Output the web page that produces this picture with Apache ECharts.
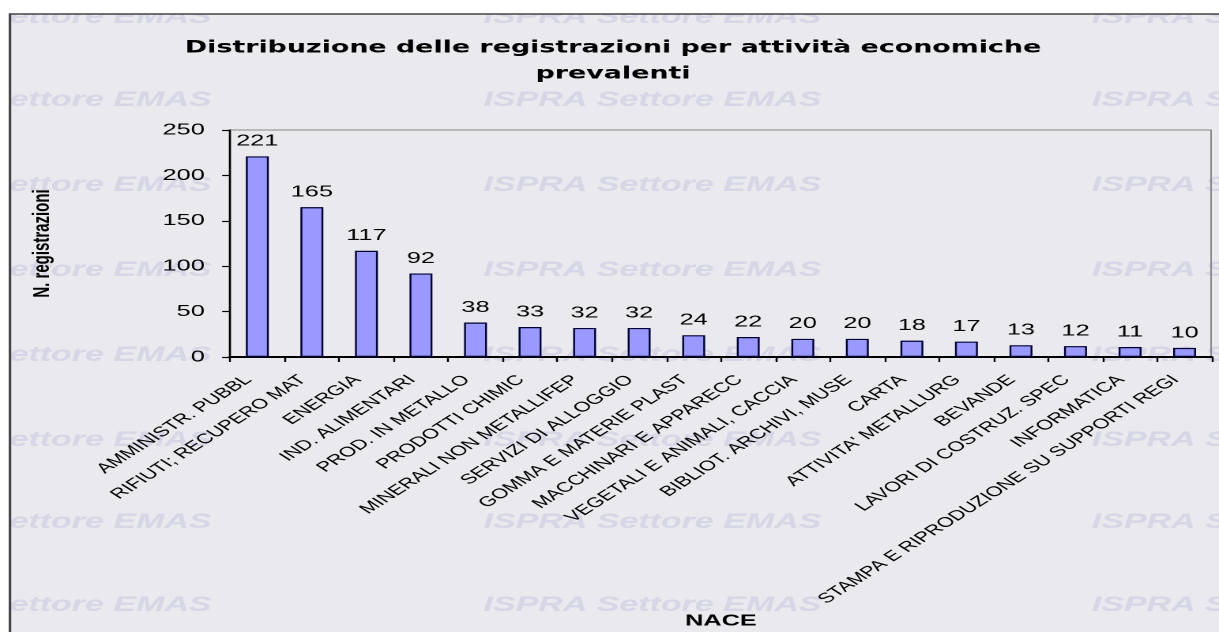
<!DOCTYPE html>
<html><head><meta charset="utf-8">
<script src="https://cdn.jsdelivr.net/npm/echarts@6/dist/echarts.min.js"></script>
<style>
html,body{margin:0;padding:0;background:#fff;overflow:hidden;width:1219px;height:632px}
#c{width:771.5px;height:632px;transform:scaleX(1.58);transform-origin:0 0}
</style>
</head><body><div id="c"></div>
<script>
const categories = ["AMMINISTR. PUBBL","RIFIUTI; RECUPERO MAT","ENERGIA","IND. ALIMENTARI","PROD. IN METALLO","PRODOTTI CHIMIC","MINERALI NON METALLIFEP","SERVIZI DI ALLOGGIO","GOMMA E MATERIE PLAST","MACCHINARI E APPARECC","VEGETALI E ANIMALI, CACCIA","BIBLIOT. ARCHIVI, MUSE","CARTA","ATTIVITA' METALLURG","BEVANDE","LAVORI DI COSTRUZ. SPEC","INFORMATICA","STAMPA E RIPRODUZIONE SU SUPPORTI REGI"];
const values = [221,165,117,92,38,33,32,32,24,22,20,20,18,17,13,12,11,10];
const yTicks = [0,50,100,150,200,250];
const titleText = "Distribuzione delle registrazioni per attività economiche\nprevalenti";
const watermark = "ISPRA Settore EMAS";

const chart = echarts.init(document.getElementById('c'), null, {renderer:'canvas', devicePixelRatio:2});
const W = 771.5;
const wm = [];
const rows = [17,100,185,270,355,440,522,605];
const cols = [-80,306,691];
rows.forEach(y=>cols.forEach(x=>{
  wm.push({type:'text', x:x, y:y, z:-9, silent:true,
    style:{text:watermark, fill:'#d6d6e6', font:'italic bold 21.5px "Liberation Sans", Arial', textVerticalAlign:'middle'}});
}));
chart.setOption({
  animation:false,
  backgroundColor:'#ffffff',
  graphic:[
    {type:'rect', z:-10, silent:true, shape:{x:6.3,y:14,width:900,height:700}, style:{fill:'#e9e9ee'}},
    ...wm,
    {type:'rect', z:-8, silent:true, shape:{x:0,y:0,width:900,height:13.5}, style:{fill:'#ffffff'}},
    {type:'rect', z:-8, silent:true, shape:{x:0,y:0,width:6.3,height:700}, style:{fill:'#ffffff'}},
    {type:'rect', z:-7, silent:true, shape:{x:6.3,y:14,width:900,height:700}, style:{fill:'none', stroke:'#444', lineWidth:1.6}},
    {type:'rect', z:-7, silent:true, shape:{x:145.6,y:130,width:620.9,height:227}, style:{fill:'none', stroke:'#888', lineWidth:1}}
  ],
  title:{text:titleText, left:383, top:30, textAlign:'center',
    textStyle:{fontFamily:'"DejaVu Sans", Verdana', fontWeight:'bold', fontSize:17, lineHeight:26, color:'#000'}},
  grid:{left:145.6, right:W-766.5, top:130, bottom:275, containLabel:false},
  xAxis:{type:'category', data:categories,
    name:'NACE', nameLocation:'middle', nameGap:256,
    nameTextStyle:{fontFamily:'"Liberation Sans", Arial', fontWeight:'bold', fontSize:16, color:'#000'},
    axisLine:{lineStyle:{color:'#000', width:2}},
    axisTick:{show:true, alignWithLabel:false, length:5, lineStyle:{color:'#000', width:1.2}},
    axisLabel:{rotate:45, interval:0, fontFamily:'"Liberation Sans", Arial', fontSize:14, color:'#000', margin:15, padding:[0,8,0,0]}
  },
  yAxis:{type:'value', min:0, max:250, interval:50,
    name:'N. registrazioni', nameLocation:'middle', nameGap:111, nameRotate:90,
    nameTextStyle:{fontFamily:'"Liberation Sans", Arial', fontWeight:'bold', fontSize:15, color:'#000'},
    axisLine:{show:true, lineStyle:{color:'#000', width:1.3}},
    axisTick:{show:true, length:5, lineStyle:{color:'#000', width:1.2}},
    splitLine:{show:false},
    axisLabel:{fontFamily:'"Liberation Sans", Arial', fontSize:16, color:'#000', margin:16,
      formatter:v=>yTicks.includes(v)?String(v):''}
  },
  series:[{type:'bar', data:values, barWidth:'42%', z:4,
    itemStyle:{color:'#9999ff', borderColor:'#000033', borderWidth:1.2},
    label:{show:true, position:'top', distance:7, fontFamily:'"Liberation Sans", Arial', fontSize:16, color:'#000'}
  }]
});
</script></body></html>
